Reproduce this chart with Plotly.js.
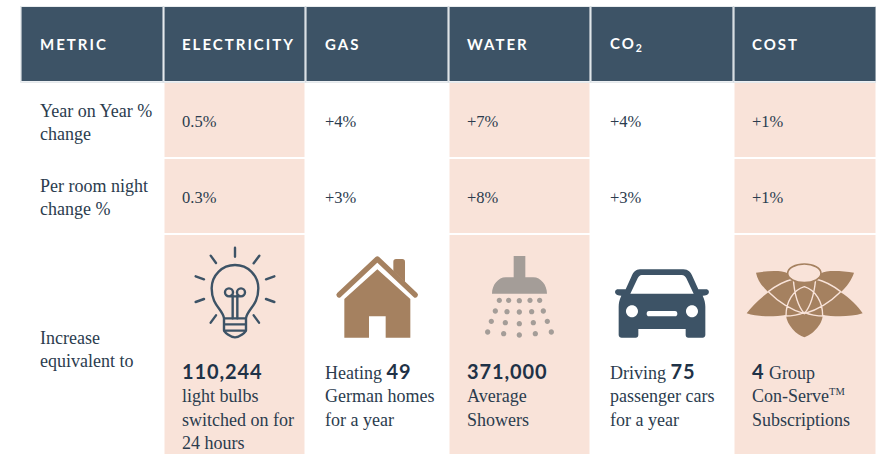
<!DOCTYPE html>
<html>
<head>
<meta charset="utf-8">
<script src="https://cdn.plot.ly/plotly-3.0.1.min.js"></script>
<style>
html,body{margin:0;padding:0;background:#fff;overflow:hidden}
#chart{width:879px;height:455px}
.shapelayer path{stroke-linecap:round;stroke-linejoin:round}
</style>
</head>
<body>
<div id="chart"></div>
<script>
// ---- data -------------------------------------------------------------
const columns = ["METRIC", "ELECTRICITY", "GAS", "WATER", "CO<sub>2</sub>", "COST"];
const rowLabels = ["Year on Year %<br>change", "Per room night<br>change %", "Increase<br>equivalent to"];
const yearOnYear = ["0.5%", "+4%", "+7%", "+4%", "+1%"];
const perRoomNight = ["0.3%", "+3%", "+8%", "+3%", "+1%"];
const equivalentBefore = ["", "Heating ", "", "Driving ", ""];
const equivalentNumber = ["110,244", "49", "371,000", "75", "4"];
const equivalentAfter = [
  "<br>light bulbs<br>switched on for<br>24 hours",
  "<br>German homes<br>for a year",
  "<br>Average<br>Showers",
  "<br>passenger cars<br>for a year",
  " Group<br>Con-Serve<sup><span style=\"font-size:10.5px\">TM</span></sup><br>Subscriptions"
];
const shaded = [0, 1, 0, 1, 0, 1];
const rowEdges = [0, 1, 2, 3, 5.9];

// ---- style ------------------------------------------------------------
const W = 879, H = 455;
const NAVY = "#3d5366", PEACH = "#f9e3d9", BROWN = "#a58160", GREY = "#a49d98", INK = "#2b3c4e", NUM = "#1f3247", RULE = "#d3dbe0";
const SERIF = "Liberation Serif, serif", SANS = "Lato, sans-serif";

// ---- cells -------------------------------------------------------------
const zCells = [
  shaded.map(() => 2),
  shaded, shaded,
  shaded
];
const colEdges = columns.map((_, i) => i - 0.5).concat([columns.length - 0.5]);
const traces = [{
  type: "heatmap", x: colEdges, y: rowEdges, z: zCells,
  zmin: 0, zmax: 2, showscale: false, hoverinfo: "skip", xgap: 2, ygap: 2,
  colorscale: [[0, "#ffffff"], [0.5, PEACH], [1, NAVY]]
}];

// ---- text --------------------------------------------------------------
const annotations = [];
function label(col, y, text, font, yshift, yanchor) {
  annotations.push({
    x: col - 0.5, y, xref: "x", yref: "y", text, showarrow: false, xanchor: "left",
    yanchor: yanchor || "middle", align: "left", xshift: 18, yshift: yshift || 0, font, borderpad: 0
  });
}
const bodyFont = {family: SERIF, size: 18, color: INK};
const valueFont = {family: SERIF, size: 16.5, color: INK};
columns.forEach((c, i) => label(i, 0.5,
  `<span style="letter-spacing:2px">${c}</span>`,
  {family: SANS, size: 15, color: "#ffffff", weight: 700}, 0));
label(0, 1.5, rowLabels[0], bodyFont, -2.5);
label(0, 2.5, rowLabels[1], bodyFont, -1);
label(0, rowEdges[3], rowLabels[2], bodyFont, -115);
yearOnYear.forEach((t, i) => label(i + 1, 1.5, t, valueFont, -1));
perRoomNight.forEach((t, i) => label(i + 1, 2.5, t, valueFont, -1));
equivalentNumber.forEach((n, i) => label(i + 1, rowEdges[3],
  `${equivalentBefore[i]}<span style="font-family:${SANS};font-weight:700;font-size:20px;color:${NUM};letter-spacing:0.9px">${n}</span>${equivalentAfter[i]}`,
  bodyFont, -123.6, "top"));

// ---- icons (path strings are in 3x-reference units, ox/oy = origin px) --
function pathIn(d, ox, oy) {
  let k = 0;
  return d.replace(/-?\d+(\.\d+)?/g, s => {
    const v = parseFloat(s) / 3;
    const out = (k++ % 2 === 0) ? (ox + v) / W : 1 - (oy + v) / H;
    return out.toFixed(5);
  });
}
const shapes = [];
function icon(d, ox, oy, o) {
  shapes.push(Object.assign({
    type: "path", xref: "paper", yref: "paper", layer: "above", path: pathIn(d, ox, oy)
  }, o));
}
function ellipse(cx, cy, rx, ry) {
  const a = rx * 0.5523, b = ry * 0.5523;
  return ` M${cx - rx} ${cy} C${cx - rx} ${cy - b} ${cx - a} ${cy - ry} ${cx} ${cy - ry} C${cx + a} ${cy - ry} ${cx + rx} ${cy - b} ${cx + rx} ${cy} C${cx + rx} ${cy + b} ${cx + a} ${cy + ry} ${cx} ${cy + ry} C${cx - a} ${cy + ry} ${cx - rx} ${cy + b} ${cx - rx} ${cy} Z`;
}
const circle = (cx, cy, r) => ellipse(cx, cy, r, r);
const strokeNavy = {line: {color: NAVY, width: 2.4}, fillcolor: "rgba(0,0,0,0)"};

// header rules
colEdges.forEach(e => shapes.push({type: "line", xref: "x", yref: "y", x0: e, x1: e, y0: rowEdges[0], y1: rowEdges[1], layer: "below", line: {color: RULE, width: 1}}));
[rowEdges[0], rowEdges[1]].forEach(r => shapes.push({type: "line", xref: "x", yref: "y", x0: colEdges[0], x1: colEdges[6], y0: r, y1: r, layer: "above", line: {color: RULE, width: 1}}));

// bulb
icon("M225 38 L225 65 M298 62 L281 85 M152 62 L168 84 M343 124 L318 133 M107 124 L132 133 M318 192 L343 201 M132 192 L107 201 M281 241 L297 263 M168 241 L152 263", 160, 235, strokeNavy);
icon("M192 250 C188 222 155 212 155 160 C155 121 186 90 225 90 C264 90 295 121 295 160 C295 212 262 222 258 250 Z M192 250 L192 285 C192 292 212 307 225 307 C238 307 258 292 258 285 L258 250 M192 268 L258 268 M192 287 L258 287", 160, 235, strokeNavy);
icon(circle(207, 172, 12) + circle(243, 172, 12) + " M218 180 L218 250 M232 180 L232 250 M207 184 L243 184", 160, 235, strokeNavy);

// house
icon("M553 308 L553 192 L652 103 L751 192 L751 308 L677 308 L677 244 L627 244 L627 308 Z", 160, 235, {fillcolor: BROWN, line: {width: 0}});
icon("M700 108 L700 80 C700 75 703 72 708 72 L727 72 C732 72 735 75 735 80 L735 142 Z", 160, 235, {fillcolor: BROWN, line: {width: 0}});
icon("M537 180 L652 72 L766 180", 160, 235, {fillcolor: "rgba(0,0,0,0)", line: {color: BROWN, width: 5.2}});

// shower
icon("M191 63 L226 63 L226 127 L250 127 C272 127 291 150 291 176 L126 176 C126 150 145 127 167 127 L191 127 Z", 450, 235, {fillcolor: GREY, line: {width: 0}});
const dotX = [[148,176,208,240,269],[136,171,208,245,280],[124,166,208,250,292],[113,161,208,256,304]];
const dotY = [[196,196,197,196,196],[228,230,231,230,228],[259,263,266,263,259],[291,296,300,296,291]];
let dots = "";
dotX.forEach((row, r) => row.forEach((x, i) => { dots += circle(x, dotY[r][i], 8); }));
icon(dots, 450, 235, {fillcolor: GREY, line: {width: 0}});

// car
let car = "M570 103 L700 103 C715 103 722 112 728 125 L745 163 L768 163 C776 163 778 170 776 175 C774 180 768 182 758 182 C764 195 766 205 766 215 L766 300 C766 305 762 308 758 308 L715 308 C710 308 707 305 707 300 L707 282 L565 282 L565 300 C565 305 562 308 557 308 L515 308 C510 308 506 305 506 300 L506 215 C506 205 508 195 514 182 C504 182 498 180 496 175 C494 170 496 163 504 163 L527 163 L544 125 C550 112 557 103 570 103 Z";
car += " M575 120 L695 120 C702 120 706 125 709 130 L731 176 L541 176 L563 130 C566 125 570 120 575 120 Z";
car += circle(546, 229, 18) + circle(726, 229, 18);
car += " M597 228 L675 228 C680 228 682 232 682 236 C682 240 680 244 675 244 L597 244 C592 244 590 240 590 236 C590 232 592 228 597 228 Z";
icon(car, 450, 235, {fillcolor: NAVY, line: {width: 0}, fillrule: "evenodd"});

// flower
icon("M1013 115 L1113 115 C1130 105 1175 108 1212 113 C1205 135 1190 155 1172 172 C1200 190 1225 215 1238 235 C1200 247 1150 245 1118 240 C1118 270 1085 300 1063 307 C1040 300 1010 270 1008 240 C975 245 925 247 890 235 C905 215 930 190 955 172 C937 155 922 135 918 113 C950 108 995 105 1013 115 Z", 450, 235, {fillcolor: BROWN, line: {width: 0}});
const veins = {line: {color: PEACH, width: 1.4}, fillcolor: "rgba(0,0,0,0)"};
icon("M955 170 C980 150 1005 138 1030 132 M1172 170 C1147 150 1122 138 1097 132 M955 170 C985 200 1025 225 1063 236 C1100 225 1142 200 1172 170 M1005 243 C1025 243 1045 240 1063 232 C1082 240 1100 243 1122 243 M1008 242 C1008 200 1030 165 1063 155 C1096 165 1118 200 1118 242 M1030 132 C1033 175 1045 215 1063 236 C1081 215 1093 175 1097 132", 450, 235, veins);
icon(ellipse(1063, 115, 50, 28), 450, 235, {fillcolor: PEACH, line: {color: BROWN, width: 1.6}});

// ---- layout ------------------------------------------------------------
const layout = {
  width: W, height: H, margin: {l: 0, r: 0, t: 0, b: 0}, showlegend: false,
  paper_bgcolor: "#ffffff", plot_bgcolor: "#ffffff", hovermode: false,
  xaxis: {domain: [20.5 / W, 876 / W], range: [-0.5, 5.5], visible: false, fixedrange: true},
  yaxis: {domain: [0, 1 - 6 / H], range: [5.9, 0], visible: false, fixedrange: true},
  annotations, shapes
};
Plotly.newPlot("chart", traces, layout, {displayModeBar: false, staticPlot: true});
</script>
</body>
</html>
